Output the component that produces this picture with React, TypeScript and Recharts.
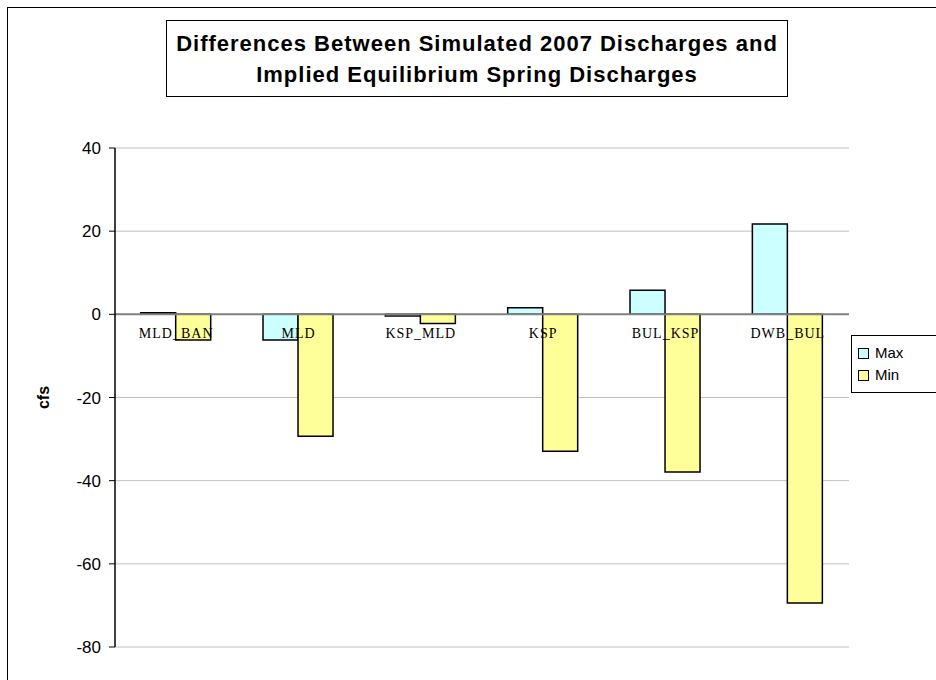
import React from "react";
import {
  BarChart,
  Bar,
  XAxis,
  YAxis,
  CartesianGrid,
  ReferenceLine,
} from "recharts";

const categories = ["MLD_BAN", "MLD", "KSP_MLD", "KSP", "BUL_KSP", "DWB_BUL"];
const maxValues = [0.4, -6.2, -0.4, 1.6, 5.8, 21.7];
const minValues = [-6.2, -29.3, -2.2, -32.9, -37.9, -69.4];
const yTicks = [40, 20, 0, -20, -40, -60, -80];
const Y_MIN = -80;
const Y_MAX = 40;

const chartData = categories.map((name, i) => ({
  name,
  Max: maxValues[i],
  Min: minValues[i],
}));

const SERIES = [
  { key: "Max", color: "#CCFFFF" },
  { key: "Min", color: "#FFFF99" },
];

const W = 936;
const H = 680;
const PLOT_TOP = 148;
const PLOT_BOTTOM = 647;
const PLOT_RIGHT = 849;
const ZERO_Y = PLOT_TOP + ((PLOT_BOTTOM - PLOT_TOP) * Y_MAX) / (Y_MAX - Y_MIN);

const SANS = "'Liberation Sans', Arial, sans-serif";

// category labels sit just under the zero line, not at the bottom of the plot
function ZeroTick(props: any) {
  const { x, payload } = props;
  return (
    <text
      x={x}
      y={ZERO_Y + 24}
      textAnchor="middle"
      fontFamily="'Liberation Serif', 'Times New Roman', serif"
      fontSize={14}
      letterSpacing={1}
      fill="#000"
    >
      {payload.value}
    </text>
  );
}

function LegendBox() {
  return (
    <div
      style={{
        position: "absolute",
        left: 851,
        top: 335,
        width: 100,
        border: "1px solid #000",
        borderRight: "none",
        padding: "6px 0 6px 6px",
        fontFamily: SANS,
        fontSize: 15,
        lineHeight: "22px",
        background: "#fff",
      }}
    >
      {SERIES.map((s) => (
        <div key={s.key} style={{ display: "flex", alignItems: "center" }}>
          <span
            style={{
              display: "inline-block",
              width: 9,
              height: 9,
              border: "1.5px solid #000",
              background: s.color,
              marginRight: 6,
            }}
          />
          {s.key}
        </div>
      ))}
    </div>
  );
}

export default function App() {
  return (
    <div
      style={{
        position: "absolute",
        left: 0,
        top: 0,
        width: W,
        height: H,
        overflow: "hidden",
        background: "#fff",
      }}
    >
      <div
        style={{
          position: "absolute",
          left: 7,
          top: 7,
          width: 1200,
          height: 1200,
          borderLeft: "1.5px solid #000",
          borderTop: "1.5px solid #000",
        }}
      />
      <div
        style={{
          position: "absolute",
          left: 166,
          top: 20,
          width: 622,
          height: 77,
          border: "1px solid #000",
          boxSizing: "border-box",
          display: "flex",
          alignItems: "center",
          justifyContent: "center",
          textAlign: "center",
          fontFamily: SANS,
          fontWeight: "bold",
          fontSize: 22,
          letterSpacing: 1,
          lineHeight: "31px",
          background: "#fff",
        }}
      >
        Differences Between Simulated 2007 Discharges and
        <br />
        Implied Equilibrium Spring Discharges
      </div>
      <div style={{ position: "absolute", left: 0, top: 0 }}>
        <BarChart
          width={W}
          height={H}
          data={chartData}
          margin={{ top: PLOT_TOP, right: W - PLOT_RIGHT, bottom: H - PLOT_BOTTOM - 30, left: 55 }}
          barGap={0}
          barCategoryGap="21%"
        >
          <CartesianGrid vertical={false} stroke="#c0c0c0" strokeWidth={1} />
          <XAxis
            dataKey="name"
            height={30}
            axisLine={false}
            tickLine={false}
            tick={<ZeroTick />}
            interval={0}
          />
          <YAxis
            width={60}
            domain={[Y_MIN, Y_MAX]}
            ticks={yTicks}
            interval={0}
            axisLine={{ stroke: "#000", strokeWidth: 1.5 }}
            tickLine={{ stroke: "#000" }}
            tickSize={6}
            tickMargin={8}
            tick={{ fill: "#000", fontSize: 17, fontFamily: SANS }}
            label={{
              value: "cfs",
              angle: -90,
              position: "insideLeft",
              dx: -17,
              style: {
                fontFamily: SANS,
                fontWeight: "bold",
                fontSize: 16,
                fill: "#000",
                textAnchor: "middle",
              },
            }}
          />
          <YAxis
            yAxisId="edge"
            orientation="right"
            width={0}
            domain={[Y_MIN, Y_MAX]}
            tick={false}
            tickLine={false}
            axisLine={{ stroke: "#888", strokeWidth: 2 }}
          />
          <ReferenceLine y={0} stroke="#808080" strokeWidth={2} />
          {SERIES.map((s) => (
            <Bar
              key={s.key}
              dataKey={s.key}
              fill={s.color}
              stroke="#000"
              strokeWidth={1.5}
              isAnimationActive={false}
            />
          ))}
        </BarChart>
      </div>
      <LegendBox />
    </div>
  );
}
